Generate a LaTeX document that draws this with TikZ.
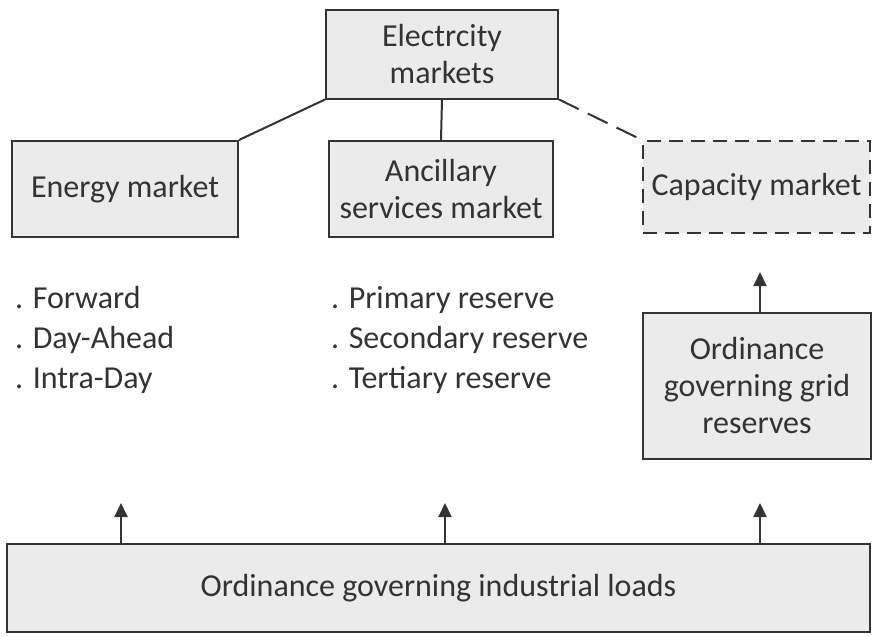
\documentclass[tikz,border=0pt]{standalone}
\usepackage{fontspec}
\setmainfont{Carlito}
\usetikzlibrary{arrows.meta}
\definecolor{boxfill}{HTML}{EBEBEB}
\definecolor{ink}{HTML}{333333}
\begin{document}
\begin{tikzpicture}[x=0.5pt,y=-0.5pt,
  font=\fontsize{16}{18.5}\selectfont,
  every node/.style={text=ink},
  box/.style={draw=ink, line width=1pt, fill=boxfill, align=center, inner sep=2pt},
  link/.style={draw=ink, line width=1pt},
  uparrow/.style={draw=ink, line width=1pt, -{Triangle[length=7pt,width=6.5pt]}},
  listtext/.style={anchor=west, align=left, font=\fontsize{16}{20}\selectfont}]
  \useasboundingbox (0,0) rectangle (873,637);

  % market tree
  \node[box, minimum width=116pt, minimum height=44.5pt] (elec) at (442,54) {Electrcity\\markets};
  \node[box, minimum width=113pt, minimum height=48pt] (energy) at (125,189) {Energy market};
  \node[box, minimum width=112pt, minimum height=48pt] (ancil) at (441,189) {Ancillary\\services market};
  \node[box, dashed, dash pattern=on 7pt off 4pt, minimum width=113.5pt, minimum height=46pt] (capacity) at (756.5,187) {Capacity market};

  \draw[link] (elec.south west) -- (energy.north east);
  \draw[link] (elec.south) -- (ancil.north);
  \draw[link, dash pattern=on 11pt off 5pt] (elec.south east) -- (capacity.north west);

  % products traded on each market
  \node[listtext] (energylist) at (8,340) {. Forward\\. Day-Ahead\\. Intra-Day};
  \node[listtext] (ancillist) at (324,340) {. Primary reserve\\. Secondary reserve\\. Tertiary reserve};

  % ordinances
  \node[box, minimum width=114pt, minimum height=73pt] (grid) at (757,386) {Ordinance\\governing grid\\reserves};
  \node[box, minimum width=431.5pt, minimum height=44pt] (loads) at (438.5,588) {Ordinance governing industrial loads};

  \coordinate (capin) at (760,272);
  \draw[uparrow] (grid.north -| capin) -- (capin);

  \coordinate (t1) at (121,503);
  \coordinate (t2) at (445,503);
  \coordinate (t3) at (760,503);
  \draw[uparrow] (loads.north -| t1) -- (t1);
  \draw[uparrow] (loads.north -| t2) -- (t2);
  \draw[uparrow] (loads.north -| t3) -- (t3);
\end{tikzpicture}
\end{document}
